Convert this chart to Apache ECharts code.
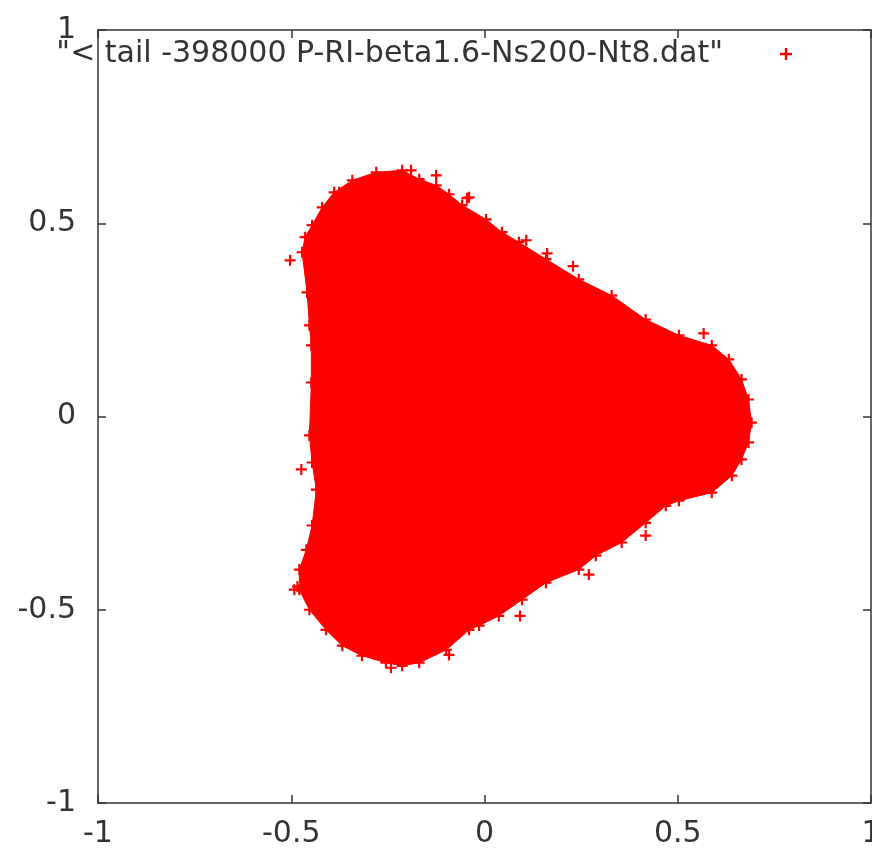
<!DOCTYPE html>
<html>
<head>
<meta charset="utf-8">
<script src="https://cdn.jsdelivr.net/npm/echarts@6/dist/echarts.min.js"></script>
<style>
  html, body { margin: 0; padding: 0; background: #fff; overflow: hidden; }
  #chart { width: 872px; height: 850px; }
</style>
</head>
<body>
<div id="chart"></div>
<script>
// outer edge of the point cloud (clockwise, from upper left lobe)
var outline = [
  [-0.453, 0.236], [-0.459, 0.321], [-0.472, 0.425], [-0.464, 0.464], [-0.446, 0.495],
  [-0.420, 0.541], [-0.389, 0.580], [-0.342, 0.611], [-0.280, 0.632], [-0.213, 0.637],
  [-0.169, 0.614], [-0.125, 0.598], [-0.092, 0.575], [-0.058, 0.547], [0.004, 0.510],
  [0.045, 0.477], [0.089, 0.451], [0.159, 0.407], [0.244, 0.355], [0.329, 0.313],
  [0.417, 0.251], [0.503, 0.210], [0.588, 0.184], [0.632, 0.148], [0.665, 0.096],
  [0.683, 0.044], [0.691, -0.016], [0.683, -0.067], [0.665, -0.111], [0.640, -0.153],
  [0.588, -0.197], [0.503, -0.218], [0.469, -0.231], [0.417, -0.275], [0.355, -0.326],
  [0.288, -0.360], [0.244, -0.396], [0.159, -0.430], [0.097, -0.474], [0.037, -0.516],
  [-0.014, -0.541], [-0.040, -0.552], [-0.099, -0.604], [-0.169, -0.637], [-0.213, -0.645],
  [-0.255, -0.637], [-0.317, -0.619], [-0.368, -0.593], [-0.410, -0.552], [-0.453, -0.500],
  [-0.479, -0.448], [-0.479, -0.396], [-0.461, -0.345], [-0.446, -0.282], [-0.435, -0.189],
  [-0.446, -0.119], [-0.453, -0.049], [-0.448, 0.088], [-0.448, 0.184]
];

// single points sticking out of the cloud
var strays = [
  [-0.503, 0.404], [-0.484, -0.440], [0.092, -0.516], [0.567, 0.215], [-0.045, 0.565],
  [0.229, 0.389], [0.108, 0.456], [0.162, 0.422], [0.417, -0.308], [0.270, -0.409],
  [-0.092, -0.617], [-0.242, -0.650], [-0.492, -0.448], [-0.474, -0.137], [-0.376, 0.580],
  [-0.190, 0.637], [-0.125, 0.624], [-0.040, 0.567]
];

var axisMin = -1;
var axisMax = 1;
var tickStep = 0.5;
var seriesName = '"< tail -398000 P-RI-beta1.6-Ns200-Nt8.dat"';

var plusPath = 'path://M0,4H10V6H0Z M4,0H6V10H4Z';
var red = '#ff0000';
var ink = '#333333';
var fontFamily = 'DejaVu Sans';
var fontSize = 30;

function makeAxis(pos, showLabel, isY) {
  return {
    type: 'value',
    position: pos,
    min: axisMin,
    max: axisMax,
    interval: tickStep,
    axisLine: { show: true, onZero: false, lineStyle: { color: ink, width: 1.5 } },
    axisTick: { show: true, inside: true, length: 8, lineStyle: { color: ink, width: 1.5 } },
    axisLabel: {
      show: showLabel,
      color: ink,
      fontFamily: fontFamily,
      fontSize: fontSize,
      margin: isY ? 22 : 16,
      padding: isY ? [0, 0, 9, 0] : 0,
      showMinLabel: true,
      showMaxLabel: true
    },
    splitLine: { show: false }
  };
}

var chart = echarts.init(document.getElementById('chart'));

var option = {
  backgroundColor: '#ffffff',
  animation: false,
  grid: { left: 98, right: 1, top: 30, bottom: 47, outerBoundsMode: 'none', containLabel: false },
  xAxis: [makeAxis('bottom', true, false), makeAxis('top', false, false)],
  yAxis: [makeAxis('left', true, true), makeAxis('right', false, true)],
  legend: {
    data: [{ name: seriesName, icon: plusPath }],
    right: 75,
    top: 34,
    align: 'right',
    itemWidth: 12,
    itemHeight: 12,
    selectedMode: false,
    itemStyle: { opacity: 1 },
    textStyle: {
      color: ink,
      fontFamily: fontFamily,
      fontSize: fontSize,
      padding: [0, 52, 0, 0]
    }
  },
  series: [
    {
      name: 'cloud',
      type: 'custom',
      silent: true,
      data: outline,
      renderItem: function (params, api) {
        if (params.dataIndex !== 0) return null;
        var pts = outline.map(function (p) { return api.coord(p); });
        return {
          type: 'polygon',
          shape: { points: pts },
          style: { fill: red, stroke: red, lineWidth: 1 }
        };
      }
    },
    {
      name: seriesName,
      type: 'scatter',
      symbol: plusPath,
      symbolSize: 11,
      itemStyle: { color: red, opacity: 1 },
      data: outline.concat(strays)
    }
  ]
};

chart.setOption(option);
</script>
</body>
</html>
